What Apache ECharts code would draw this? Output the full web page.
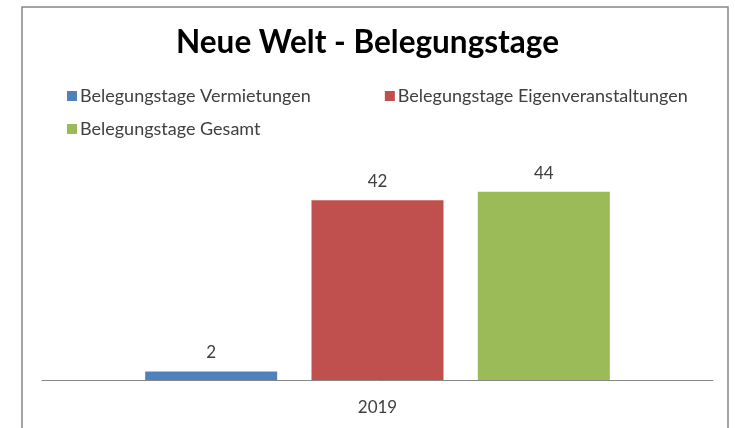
<!DOCTYPE html>
<html>
<head>
<meta charset="utf-8">
<script src="https://cdn.jsdelivr.net/npm/echarts@6/dist/echarts.min.js"></script>
<style>
  html, body { margin: 0; padding: 0; background: #fff; }
  #chart { width: 735px; height: 428px; }
</style>
</head>
<body>
<div id="chart"></div>
<script>
const categories = ["2019"];
const seriesNames = ["Belegungstage Vermietungen", "Belegungstage Eigenveranstaltungen", "Belegungstage Gesamt"];
const vermietungen = [2];
const eigenveranstaltungen = [42];
const gesamt = [44];
const colors = ["#4f81bd", "#c0504d", "#9bbb59"];

const FONT = "Lato, 'Open Sans', sans-serif";

const labelStyle = {
  show: true,
  position: "top",
  distance: 10,
  color: "#404040",
  fontFamily: FONT,
  fontSize: 17
};

const legendBase = {
  left: 62,
  itemWidth: 10,
  itemHeight: 10,
  itemGap: 74,
  icon: "rect",
  textStyle: { fontFamily: FONT, fontSize: 18, color: "#404040", padding: [0, 0, 0, -2] }
};

const option = {
  animation: false,
  backgroundColor: "#fff",
  color: colors,
  title: {
    text: "Neue Welt - Belegungstage",
    left: "center",
    top: 22,
    textStyle: { fontFamily: FONT, fontSize: 31.5, fontWeight: "bold", color: "#000" }
  },
  legend: [
    Object.assign({}, legendBase, { top: 82, data: [seriesNames[0], seriesNames[1]] }),
    Object.assign({}, legendBase, { top: 115, data: [seriesNames[2]] })
  ],
  graphic: [{
    type: "rect",
    shape: { x: 22, y: 7, width: 706, height: 440 },
    style: { fill: "none", stroke: "#868686", lineWidth: 1.5 },
    silent: true
  }],
  grid: { left: 42, right: 22, top: 166, bottom: 48 },
  xAxis: {
    type: "category",
    data: categories,
    axisLine: { lineStyle: { color: "#868686" } },
    axisTick: { show: false },
    axisLabel: { color: "#404040", fontFamily: FONT, fontSize: 17, margin: 19 }
  },
  yAxis: {
    type: "value",
    min: 0,
    max: 50,
    interval: 10,
    show: false
  },
  series: [
    { name: seriesNames[0], type: "bar", data: vermietungen, barWidth: 132, barGap: "26%", label: labelStyle },
    { name: seriesNames[1], type: "bar", data: eigenveranstaltungen, barWidth: 132, barGap: "26%", label: labelStyle },
    { name: seriesNames[2], type: "bar", data: gesamt, barWidth: 132, barGap: "26%", label: labelStyle }
  ]
};

const myChart = echarts.init(document.getElementById("chart"));
myChart.setOption(option);
</script>
</body>
</html>
